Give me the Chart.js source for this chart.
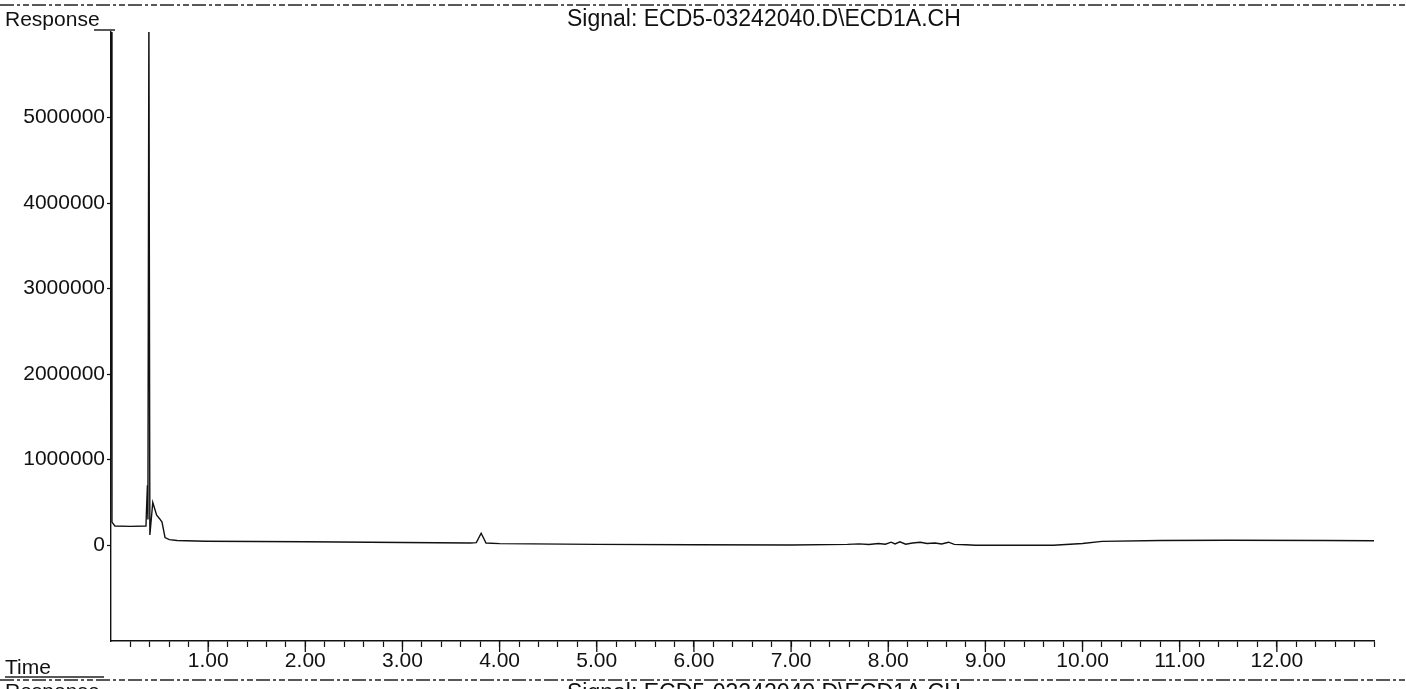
<!DOCTYPE html>
<html>
<head>
<meta charset="utf-8">
<script src="https://cdn.jsdelivr.net/npm/chart.js@4/dist/chart.umd.min.js"></script>
<style>
  html, body { margin: 0; padding: 0; background: #fff; }
  #wrap { width: 1406px; height: 689px; }
</style>
</head>
<body>
<div id="wrap"><canvas id="ecdChart"></canvas></div>
<script>
// retention time (min) and detector response
const times = [
    0.00, 0.01, 0.04, 0.20, 0.36, 0.365, 0.375, 0.38, 0.39, 0.40,
    0.43, 0.47, 0.50, 0.525, 0.556, 0.60, 0.68, 0.97, 2.00, 3.00,
    3.70, 3.76, 3.81, 3.86, 4.00, 5.00, 6.00, 7.00, 7.58, 7.70,
    7.80, 7.90, 7.97, 8.03, 8.07, 8.12, 8.18, 8.25, 8.33, 8.40,
    8.48, 8.55, 8.62, 8.68, 8.80, 8.90, 9.70, 10.00, 10.20, 10.80,
    11.50, 12.50, 13.00
];
const responses = [
    6300000, 270000, 225000, 220000, 225000, 400000, 700000, 300000, 6300000, 120000,
    500000, 350000, 310000, 270000, 90000, 65000, 55000, 47000, 40000, 32000,
    25000, 30000, 140000, 25000, 18000, 10000, 5000, 3000, 10000, 15000,
    8000, 20000, 12000, 35000, 15000, 40000, 12000, 25000, 35000, 20000,
    25000, 15000, 35000, 10000, 5000, 0, 0, 20000, 45000, 55000,
    58000, 55000, 52000
];
const yTicks = [0, 1000000, 2000000, 3000000, 4000000, 5000000];
const xMajor = [1, 2, 3, 4, 5, 6, 7, 8, 9, 10, 11, 12];

const signalName = 'Signal: ECD5-03242040.D\\ECD1A.CH';
const font = 'Liberation Sans, Arial, sans-serif';

const decor = {
    id: 'decor',
    afterDraw(chart) {
        const ctx = chart.ctx;
        const x = chart.scales.x;
        const area = chart.chartArea;
        ctx.save();
        // longer tick marks on whole minutes
        ctx.strokeStyle = '#111';
        ctx.lineWidth = 1.3;
        xMajor.forEach(v => {
            const px = x.getPixelForValue(v);
            ctx.beginPath();
            ctx.moveTo(px, area.bottom);
            ctx.lineTo(px, area.bottom + 11);
            ctx.stroke();
        });
        // dash-dot separator lines
        ctx.setLineDash([14, 3, 3, 3, 6, 3]);
        ctx.lineWidth = 1.6;
        ctx.strokeStyle = '#222';
        [5, 680].forEach(y => {
            ctx.beginPath();
            ctx.moveTo(0, y);
            ctx.lineTo(1406, y);
            ctx.stroke();
        });
        ctx.setLineDash([]);
        // labels
        ctx.fillStyle = '#111';
        ctx.textBaseline = 'alphabetic';
        ctx.textAlign = 'left';
        ctx.font = '21px ' + font;
        ctx.fillText('Response', 5, 26);
        ctx.fillText('Time', 5, 674);
        ctx.fillText('Response', 5, 698);
        ctx.lineWidth = 1.5;
        ctx.beginPath();
        ctx.moveTo(94, 30); ctx.lineTo(area.left + 4, 30);
        ctx.moveTo(5, 677); ctx.lineTo(104, 677);
        ctx.stroke();
        ctx.font = '23px ' + font;
        ctx.fillText(signalName, 567, 26);
        ctx.fillText(signalName, 567, 700);
        ctx.restore();
    }
};

new Chart(document.getElementById('ecdChart').getContext('2d'), {
    type: 'line',
    data: {
        datasets: [{
            data: times.map((t, i) => ({ x: t, y: responses[i] })),
            borderColor: '#111',
            borderWidth: 1.4,
            pointRadius: 0,
            tension: 0,
            fill: false
        }]
    },
    options: {
        responsive: true,
        maintainAspectRatio: false,
        animation: false,
        layout: { padding: { top: 32, right: 32, left: 0, bottom: 0 } },
        plugins: {
            legend: { display: false },
            tooltip: { enabled: false }
        },
        scales: {
            x: {
                type: 'linear',
                min: 0,
                max: 13,
                afterBuildTicks: scale => {
                    const t = [];
                    for (let i = 1; i <= 65; i++) t.push({ value: i / 5 });
                    scale.ticks = t;
                },
                afterFit: scale => { scale.height = 48; },
                ticks: {
                    autoSkip: false,
                    maxRotation: 0,
                    padding: 2,
                    color: '#111',
                    font: { family: font, size: 21 },
                    callback: v => (Math.abs(v - Math.round(v)) < 1e-6 && v < 12.5) ? Math.round(v).toFixed(2) : ''
                },
                grid: { drawOnChartArea: false, tickLength: 6, tickColor: '#111', tickWidth: 1.2 },
                border: { display: true, color: '#111', width: 1.4 }
            },
            y: {
                min: -1120000,
                max: 6000000,
                afterBuildTicks: scale => { scale.ticks = yTicks.map(v => ({ value: v })); },
                afterFit: scale => { scale.width = 111; },
                ticks: {
                    padding: 2,
                    color: '#111',
                    font: { family: font, size: 21 },
                    callback: v => String(v)
                },
                grid: { drawOnChartArea: false, tickLength: 4, tickColor: '#111', tickWidth: 1.2 },
                border: { display: true, color: '#111', width: 1.4 }
            }
        }
    },
    plugins: [decor]
});
</script>
</body>
</html>
